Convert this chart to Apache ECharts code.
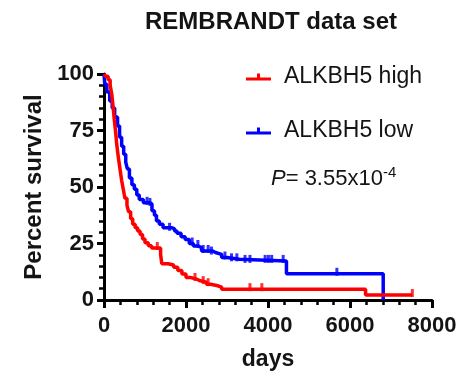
<!DOCTYPE html>
<html>
	<head>
		<meta charset="UTF-8">
		<title>REMBRANDT data set</title>
		<script src="https://cdn.jsdelivr.net/npm/echarts@6/dist/echarts.min.js"></script>
		<style>
			html, body { margin: 0; padding: 0; background: #fff; }
		</style>
	</head>
	<body>
		<div id="main" style="width: 462px;height:376px;"></div>
		<script type="text/javascript">
			// Kaplan-Meier steps: days / percent survival
			var highDays = [0, 40, 100, 150, 190, 220, 250, 280, 310, 350, 390, 430, 470, 510, 560, 600, 650, 700, 760, 820, 880, 940, 1000, 1080, 1160, 1380, 1410, 1560, 1700, 1800, 1900, 2000, 2100, 2250, 2350, 2500, 2600, 2750, 2870, 6380, 7520];
			var highPct = [100, 99, 97.5, 95, 91, 86, 80, 75, 69, 63, 58, 53, 49, 45, 42, 39, 36, 33.5, 32, 30.5, 29, 27, 25.3, 24, 23, 20.2, 16, 15.5, 14.5, 13, 11.5, 10, 9.3, 8.5, 7.9, 7, 6.4, 5.7, 4.8, 2.2, 2.2];
			var lowDays = [0, 20, 70, 140, 200, 260, 330, 380, 430, 480, 530, 570, 620, 680, 740, 800, 860, 960, 1120, 1170, 1230, 1280, 1350, 1440, 1650, 1720, 1780, 1880, 1980, 2080, 2180, 2300, 2380, 2650, 2720, 2870, 3000, 3300, 4450, 6810];
			var lowPct = [100, 95.5, 92, 88, 85, 81, 77, 72, 68, 64.5, 61, 58, 54, 51, 49, 46.5, 44.5, 43, 42.5, 39.5, 37.5, 35, 33.5, 32, 31.5, 30.5, 29.5, 28, 26.8, 25, 23.9, 23.1, 21.7, 21, 20.2, 18.8, 18, 17.3, 11.6, 0];

			// censored subjects
			var highCensorDays = [1300, 2220, 2420, 2540, 3560, 3850, 7520];
			var highCensorPct = [23, 9.3, 7.9, 7, 4.8, 4.8, 2.2];
			var lowCensorDays = [1050, 1120, 1600, 2150, 2290, 2420, 2540, 2620, 2950, 3110, 3240, 3440, 3560, 3930, 4010, 4090, 4370, 5680];
			var lowCensorPct = [43, 42.5, 31.5, 25, 23.9, 21.7, 21.7, 21, 18.8, 18, 18, 17.3, 17.3, 17.3, 17.3, 17.3, 17.3, 11.6];

			var groupNames = ['ALKBH5 high', 'ALKBH5 low'];
			var pValue = '3.55x10';
			var pExp = '-4';

			function pairs(xs, ys) {
				var out = [];
				for (var i = 0; i < xs.length; i++) out.push([xs[i], ys[i]]);
				return out;
			}

			var font = 'Liberation Sans, Arial, sans-serif';
			var ink = '#141414';
			var tickIcon = 'path://M0,4h25v3h-25z M11,0h3v5h-3z';
			var minor = { show: true, splitNumber: 5, length: 5, lineStyle: { color: '#000', width: 2.5 } };

			var myChart = echarts.init(document.getElementById('main'));
			myChart.setOption({
				animation: false,
				textStyle: { fontFamily: font },
				title: [{
					text: 'REMBRANDT data set',
					left: 140,
					top: 5,
					textStyle: { fontSize: 24, fontWeight: 'bold', color: ink, fontFamily: font }
				}, {
					text: '{i|P}{n|= ' + pValue + '}{s|' + pExp + '}',
					left: 266,
					top: 160,
					textStyle: {
						fontFamily: font,
						fontWeight: 'normal',
						rich: {
							i: { fontSize: 22, fontStyle: 'italic', fontWeight: 'normal', color: ink, fontFamily: font },
							n: { fontSize: 22, fontWeight: 'normal', color: ink, fontFamily: font },
							s: { fontSize: 15, fontWeight: 'normal', color: ink, fontFamily: font, padding: [0, 0, 12, 0] }
						}
					}
				}],
				legend: {
					orient: 'vertical',
					left: 246,
					top: 64,
					padding: 0,
					itemWidth: 25,
					itemHeight: 8,
					itemGap: 28,
					icon: tickIcon,
					textStyle: { fontSize: 23, color: ink, fontFamily: font, lineHeight: 26, padding: [0, 0, 0, 8] },
					data: groupNames
				},
				grid: { left: 104, right: 30, top: 74, bottom: 73 },
				xAxis: {
					type: 'value',
					min: 0,
					max: 8000,
					interval: 2000,
					name: 'days',
					nameLocation: 'middle',
					nameGap: 48,
					nameTextStyle: { fontSize: 23, fontWeight: 'bold', color: ink },
					axisLine: { lineStyle: { color: '#000', width: 3 } },
					axisTick: { inside: false, length: 8, lineStyle: { color: '#000', width: 3 } },
					minorTick: minor,
					splitLine: { show: false },
					minorSplitLine: { show: false },
					axisLabel: { fontSize: 22, fontWeight: 'bold', color: ink, margin: 15, formatter: function (v) { return String(v); } }
				},
				yAxis: {
					type: 'value',
					min: 0,
					max: 100,
					interval: 25,
					name: 'Percent survival',
					nameLocation: 'middle',
					nameGap: 57,
					nameTextStyle: { fontSize: 24, fontWeight: 'bold', color: ink },
					axisLine: { show: true, lineStyle: { color: '#000', width: 3 } },
					axisTick: { show: true, inside: false, length: 7, lineStyle: { color: '#000', width: 3 } },
					minorTick: minor,
					splitLine: { show: false },
					minorSplitLine: { show: false },
					axisLabel: { fontSize: 22, fontWeight: 'bold', color: ink, margin: 10 }
				},
				series: [{
					name: groupNames[0],
					type: 'line',
					step: 'end',
					showSymbol: false,
					clip: false,
					color: '#ff0000',
					lineStyle: { width: 3.5 },
					data: pairs(highDays, highPct),
					z: 3
				}, {
					name: groupNames[1],
					type: 'line',
					step: 'end',
					showSymbol: false,
					clip: false,
					color: '#0000ff',
					lineStyle: { width: 3.5 },
					data: pairs(lowDays, lowPct),
					z: 2
				}, {
					name: groupNames[0],
					type: 'scatter',
					symbol: 'rect',
					symbolSize: [3, 8],
					symbolOffset: [0, -2],
					color: '#ff0000',
					data: pairs(highCensorDays, highCensorPct),
					z: 3
				}, {
					name: groupNames[1],
					type: 'scatter',
					symbol: 'rect',
					symbolSize: [3, 8],
					symbolOffset: [0, -2],
					color: '#0000ff',
					data: pairs(lowCensorDays, lowCensorPct),
					z: 2
				}]
			});
		</script>
	</body>
</html>
